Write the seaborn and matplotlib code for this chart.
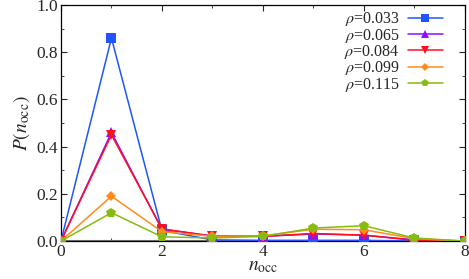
import matplotlib
matplotlib.use("Agg")
import matplotlib.pyplot as plt
import seaborn as sns
import pandas as pd
from matplotlib.ticker import MultipleLocator, FormatStrFormatter

sns.set_style("ticks")
plt.rcParams['font.family'] = ['Liberation Serif', 'DejaVu Serif']
plt.rcParams['mathtext.fontset'] = 'stix'

n_occ = [0, 1, 2, 3, 4, 5, 6, 7, 8]
labels = [r"$\rho$=0.033", r"$\rho$=0.065", r"$\rho$=0.084", r"$\rho$=0.099", r"$\rho$=0.115"]
p_033 = [0.0, 0.86, 0.045, 0.005, 0.003, 0.003, 0.003, 0.0, 0.0]
p_065 = [0.0, 0.46, 0.05, 0.022, 0.02, 0.03, 0.025, 0.005, 0.0]
p_084 = [0.0, 0.45, 0.052, 0.02, 0.02, 0.032, 0.025, 0.003, 0.0]
p_099 = [0.0, 0.19, 0.04, 0.02, 0.022, 0.05, 0.048, 0.01, 0.0]
p_115 = [0.0, 0.12, 0.018, 0.013, 0.02, 0.055, 0.065, 0.013, 0.0]

series = [p_033, p_065, p_084, p_099, p_115]
colors = ["#1f55ff", "#8a10ff", "#ff1020", "#ff8c1a", "#88bb10"]
markers = ["s", "^", "v", "D", "p"]
msizes = [7, 7, 7, 5, 7.5]

fig = plt.figure(figsize=(4.69, 2.79), dpi=100)
ax = fig.add_axes([0.130, 0.136, 0.861, 0.846])

ax.axhline(0, color="#777777", lw=1.5, zorder=1)
for lab, vals, c, m, ms in zip(labels, series, colors, markers, msizes):
    df = pd.DataFrame({"n": n_occ, "p": vals})
    sns.lineplot(data=df, x="n", y="p", ax=ax, color=c, marker=m, markersize=ms,
                 markeredgewidth=0, lw=1.1, label=lab, zorder=3)

ax.set_xlim(0, 8)
ax.set_ylim(0, 1.0)
ax.xaxis.set_major_locator(MultipleLocator(2))
ax.xaxis.set_minor_locator(MultipleLocator(1))
ax.yaxis.set_major_locator(MultipleLocator(0.2))
ax.yaxis.set_minor_locator(MultipleLocator(0.1))
ax.yaxis.set_major_formatter(FormatStrFormatter("%.1f"))
ax.tick_params(which="both", direction="in", top=True, right=True, labelsize=12.5, pad=2)
ax.tick_params(which="major", length=4, width=0.8)
ax.tick_params(which="minor", length=2, width=0.6)
for s in ax.spines.values():
    s.set_linewidth(0.9)
    s.set_color("black")

ax.set_xlabel(r"$n_{\rm occ}$", fontsize=14, labelpad=-1)
ax.set_ylabel(r"$P(n_{\rm occ})$", fontsize=14, labelpad=3)

leg = ax.legend(loc="upper right", bbox_to_anchor=(0.95, 0.985), frameon=False,
                markerfirst=False, fontsize=11.5, markerscale=0.8,
                handlelength=2.2, handletextpad=0.5, labelspacing=-0.1,
                borderpad=0.1, borderaxespad=0.0)

fig.savefig("out.png", dpi=100)
